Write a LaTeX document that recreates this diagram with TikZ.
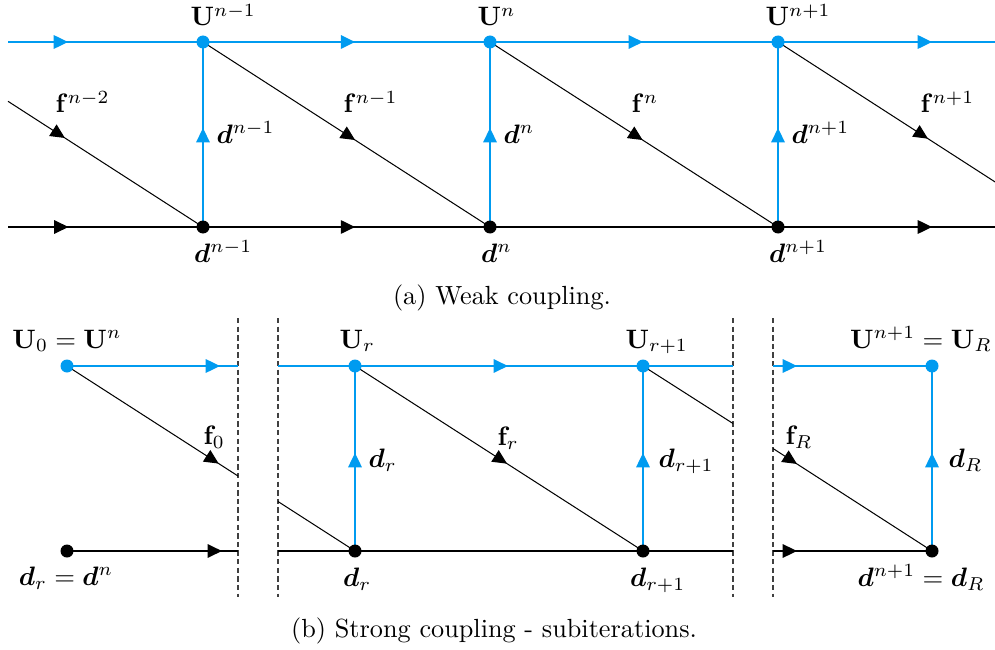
\documentclass[tikz,border=0pt]{standalone}
\usepackage{amsmath,bm,mathtools}
\usetikzlibrary{arrows.meta,decorations.markings}
\definecolor{cblue}{RGB}{0,155,240}
\tikzset{
  x=0.4878pt, y=-0.4878pt,
  arrat/.style={postaction={decorate},decoration={markings,
     mark=at position #1 with {\arrow{Triangle[length=7pt,width=6.6pt]}}}},
  bline/.style={cblue, line width=0.8pt},
  kline/.style={black, line width=0.75pt},
  dline/.style={black, line width=0.5pt},
  sepline/.style={black!75, line width=0.5pt, dash pattern=on 2.6pt off 1.6pt},
  bdot/.style={fill=cblue},
  kdot/.style={fill=black},
  lab/.style={inner sep=0pt, scale=1.3},
  captxt/.style={inner sep=0pt, scale=1.28},
}
\begin{document}
\begin{tikzpicture}
\useasboundingbox (0,0) rectangle (995,650);
% ---------------- top panel ----------------
\coordinate (TL) at (8,42);   \coordinate (TR) at (995,42);
\coordinate (BL) at (8,227);  \coordinate (BR) at (995,227);
\coordinate (U1) at (203,42); \coordinate (U2) at (490,42); \coordinate (U3) at (778,42);
\coordinate (D1) at (203,227);\coordinate (D2) at (490,227);\coordinate (D3) at (778,227);
\coordinate (FL) at (8,101.3); \coordinate (FR) at (995,181.9);
% blue line
\draw[bline, arrat=0.308] (TL) -- (U1);
\draw[bline, arrat=0.53] (U1) -- (U2);
\draw[bline, arrat=0.531] (U2) -- (U3);
\draw[bline, arrat=0.71] (U3) -- (TR);
% black line
\draw[kline, arrat=0.31] (BL) -- (D1);
\draw[kline, arrat=0.53] (D1) -- (D2);
\draw[kline] (D2) -- (D3);
\draw[kline, arrat=0.71] (D3) -- (BR);
% verticals
\draw[bline, arrat=0.535] (D1) -- (U1);
\draw[bline, arrat=0.535] (D2) -- (U2);
\draw[bline, arrat=0.535] (D3) -- (U3);
% diagonals
\draw[dline, arrat=0.292] (FL) -- (D1);
\draw[dline, arrat=0.53] (U1) -- (D2);
\draw[dline, arrat=0.53] (U2) -- (D3);
\draw[dline, arrat=0.691] (U3) -- (FR);
% dots
\foreach \p in {U1,U2,U3} \fill[bdot] (\p) circle (6.5);
\foreach \p in {D1,D2,D3} \fill[kdot] (\p) circle (6.5);
% labels
\node[lab, anchor=base] (lU1) at (203,26) {$\mathbf{U}^{\mathrlap{n-1}}$};
\node[lab, anchor=base] (lU2) at (490,26) {$\mathbf{U}^{\mathrlap{n}}$};
\node[lab, anchor=base] (lU3) at (778,26) {$\mathbf{U}^{\mathrlap{n+1}}$};
\node[lab, anchor=base] (lD1) at (203,262) {$\bm{d}^{\mathrlap{n-1}}$};
\node[lab, anchor=base] (lD2) at (490,262) {$\bm{d}^{\mathrlap{n}}$};
\node[lab, anchor=base] (lD3) at (778,262) {$\bm{d}^{\mathrlap{n+1}}$};
\node[lab, anchor=base west] (lv1) at (216,143) {$\bm{d}^{n-1}$};
\node[lab, anchor=base west] (lv2) at (503,143) {$\bm{d}^{n}$};
\node[lab, anchor=base west] (lv3) at (791,143) {$\bm{d}^{n+1}$};
\node[lab, anchor=base west] (lf0) at (55,113) {$\mathbf{f}^{n-2}$};
\node[lab, anchor=base west] (lf1) at (343,113) {$\mathbf{f}^{n-1}$};
\node[lab, anchor=base west] (lf2) at (631,113) {$\mathbf{f}^{n}$};
\node[lab, anchor=base west] (lf3) at (920,113) {$\mathbf{f}^{n+1}$};
\node[captxt, anchor=base] (capa) at (502,304) {(a) Weak coupling.};
% ---------------- bottom panel ----------------
\coordinate (P0U) at (67,366); \coordinate (P0D) at (67,551);
\coordinate (E1) at (238,366); \coordinate (E1b) at (238,551); \coordinate (E1f) at (238,476);
\coordinate (V1t) at (238,318); \coordinate (V1b) at (238,597);
\coordinate (V2t) at (278,318); \coordinate (V2b) at (278,597);
\coordinate (V3t) at (733,318); \coordinate (V3b) at (733,597);
\coordinate (V4t) at (773,318); \coordinate (V4b) at (773,597);
\coordinate (S1) at (278,366); \coordinate (S1b) at (278,551); \coordinate (S1f) at (278,501.5);
\coordinate (Ur) at (355,366); \coordinate (Ur1) at (643,366);
\coordinate (Dr) at (355,551); \coordinate (Dr1) at (643,551);
\coordinate (E3) at (733,366); \coordinate (E3b) at (733,551); \coordinate (E3f) at (733,423.5);
\coordinate (S4) at (773,366); \coordinate (S4b) at (773,551); \coordinate (S4f) at (773,448.5);
\coordinate (UR) at (932,366); \coordinate (DR) at (932,551);
% separators
\draw[sepline] (V1t) -- (V1b);
\draw[sepline] (V2t) -- (V2b);
\draw[sepline] (V3t) -- (V3b);
\draw[sepline] (V4t) -- (V4b);
% first part
\draw[bline, arrat=0.895] (P0U) -- (E1);
\draw[kline, arrat=0.906] (P0D) -- (E1b);
\draw[dline, arrat=0.889] (P0U) -- (E1f);
% middle part
\draw[bline] (S1) -- (Ur);
\draw[bline, arrat=0.531] (Ur) -- (Ur1);
\draw[bline] (Ur1) -- (E3);
\draw[kline] (S1b) -- (Dr) -- (Dr1) -- (E3b);
\draw[bline, arrat=0.53] (Dr) -- (Ur);
\draw[bline, arrat=0.53] (Dr1) -- (Ur1);
\draw[dline] (S1f) -- (Dr);
\draw[dline, arrat=0.528] (Ur) -- (Dr1);
\draw[dline] (Ur1) -- (E3f);
% last part
\draw[bline, arrat=0.151] (S4) -- (UR);
\draw[kline, arrat=0.151] (S4b) -- (DR);
\draw[dline, arrat=0.151] (S4f) -- (DR);
\draw[bline, arrat=0.53] (DR) -- (UR);
% dots
\foreach \p in {P0U,Ur,Ur1,UR} \fill[bdot] (\p) circle (6.5);
\foreach \p in {P0D,Dr,Dr1,DR} \fill[kdot] (\p) circle (6.5);
% labels
\node[lab, anchor=base] (lU0) at (67,348) {$\mathbf{U}_0 = \mathbf{U}^n$};
\node[lab, anchor=base] (ld0) at (66,585) {$\bm{d}_r = \bm{d}^n$};
\node[lab, anchor=base west] (lf0b) at (203,444) {$\mathbf{f}_0$};
\node[lab, anchor=base] (lUr) at (352,348) {$\mathbf{U}_{\mathrlap{r}}$};
\node[lab, anchor=base] (lUr1) at (638,348) {$\mathbf{U}_{\mathrlap{r+1}}$};
\node[lab, anchor=base] (ldr) at (352,586) {$\bm{d}_{\mathrlap{r}}$};
\node[lab, anchor=base] (ldr1) at (639,586) {$\bm{d}_{\mathrlap{r+1}}$};
\node[lab, anchor=base west] (lvr) at (368,467) {$\bm{d}_{r}$};
\node[lab, anchor=base west] (lvr1) at (658,467) {$\bm{d}_{r+1}$};
\node[lab, anchor=base west] (lvR) at (948,467) {$\bm{d}_{R}$};
\node[lab, anchor=base west] (lfr) at (497,445) {$\mathbf{f}_r$};
\node[lab, anchor=base west] (lfR) at (785,444) {$\mathbf{f}_R$};
\node[lab, anchor=base] (lUR) at (921,348) {$\mathbf{U}^{n+1} = \mathbf{U}_R$};
\node[lab, anchor=base] (ldR) at (921,586) {$\bm{d}^{n+1} = \bm{d}_R$};
\node[captxt, anchor=base] (capb) at (494,637) {(b) Strong coupling - subiterations.};
\end{tikzpicture}
\end{document}
